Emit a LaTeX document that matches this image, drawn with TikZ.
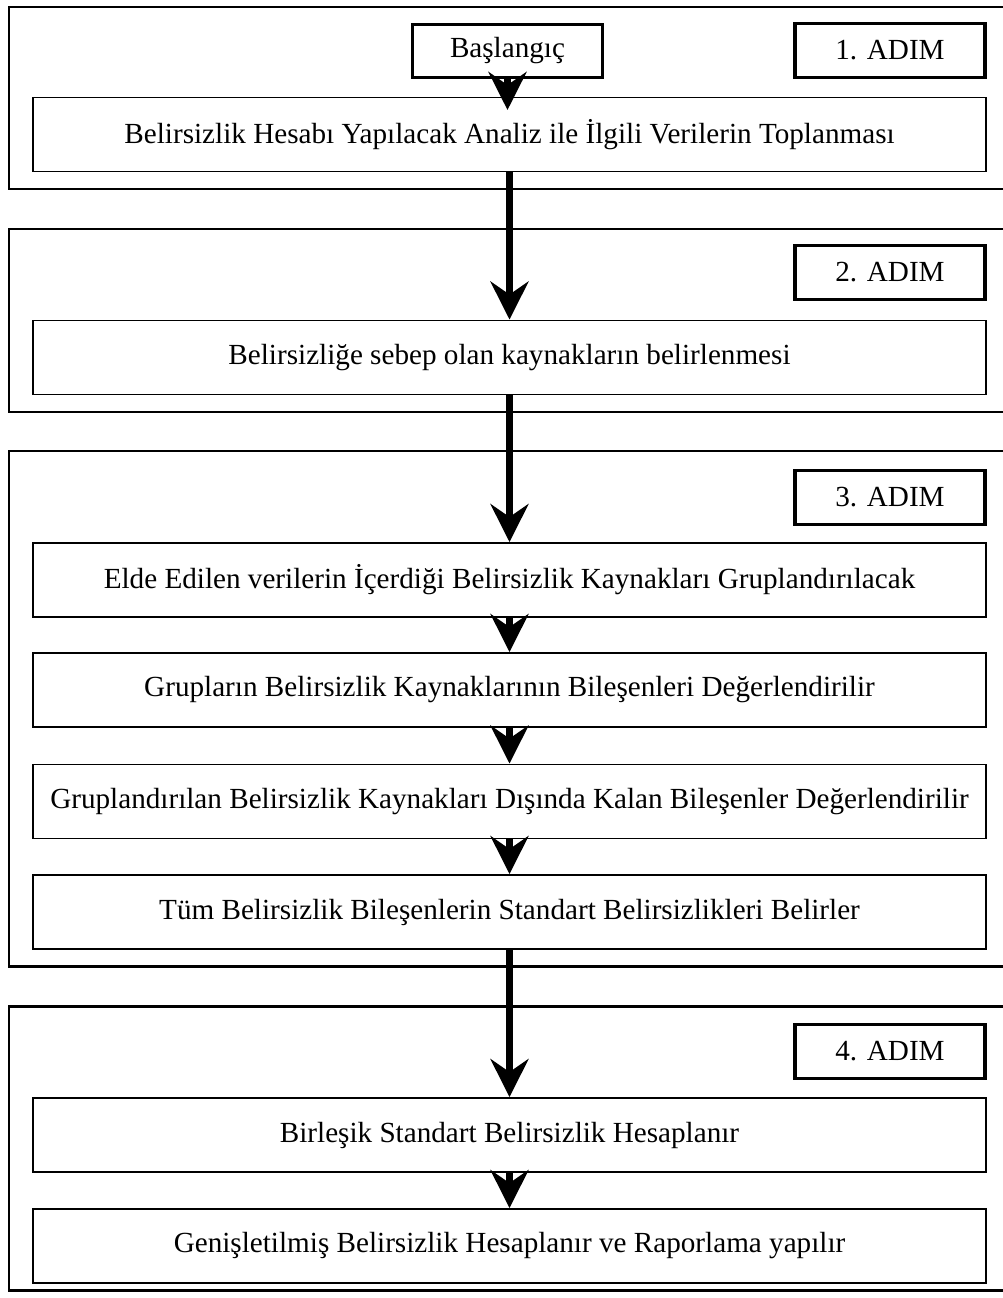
\documentclass[tikz,border=0pt]{standalone}
\usepackage{fontspec}
\setmainfont{Liberation Serif}
\usepackage{tikz}
\usetikzlibrary{positioning,arrows.meta}

\tikzset{
	frame/.style={line width=1.7pt},
	stepbox/.style={draw,line width=1.1pt,inner sep=0pt,minimum width=19.06cm,minimum height=1.48cm,font=\fontsize{16.6}{19}\selectfont},
	tagbox/.style={draw,line width=1.9pt,inner sep=0pt,minimum width=3.8cm,minimum height=1.07cm,font=\fontsize{16.6}{19}\selectfont},
	flow/.style={line width=4.4pt,-{Stealth[length=0.76cm,width=0.76cm,inset=0.26cm]}}
}

\begin{document}
\begin{tikzpicture}[x=0.02cm,y=-0.02cm]
	
	\useasboundingbox (0,0) rectangle (1003,1298);
	
	% the four step frames
	\draw[frame] (9,7) rectangle (1012,189);
	\draw[frame] (9,229) rectangle (1012,412);
	\draw[frame] (9,451) rectangle (1012,966);
	\draw[frame] (9,1006) rectangle (1012,1290);
	
	\node[tagbox] (start) at (507.5,51) {Başlangıç};
	\node[tagbox] (adim1) at (890,50.5) {1. ADIM};
	\node[tagbox] (adim2) at (890,272.5) {2. ADIM};
	\node[tagbox] (adim3) at (890,497.5) {3. ADIM};
	\node[tagbox] (adim4) at (890,1051.5) {4. ADIM};
	
	\node[stepbox] (veri) at (509.5,134.5) {Belirsizlik Hesabı Yapılacak Analiz ile İlgili Verilerin Toplanması};
	\node[stepbox] (kaynak) at (509.5,357.5) {Belirsizliğe sebep olan kaynakların belirlenmesi};
	\node[stepbox] (grup) at (509.5,580) {Elde Edilen verilerin İçerdiği Belirsizlik Kaynakları Gruplandırılacak};
	\node[stepbox] (bilesen) at (509.5,690) {Grupların Belirsizlik Kaynaklarının Bileşenleri Değerlendirilir};
	\node[stepbox] (disinda) at (509.5,801.5) {Gruplandırılan Belirsizlik Kaynakları Dışında Kalan Bileşenler Değerlendirilir};
	\node[stepbox] (standart) at (509.5,912) {Tüm Belirsizlik Bileşenlerin Standart Belirsizlikleri Belirler};
	\node[stepbox] (birlesik) at (509.5,1135) {Birleşik Standart Belirsizlik Hesaplanır};
	\node[stepbox] (genis) at (509.5,1246) {Genişletilmiş Belirsizlik Hesaplanır ve Raporlama yapılır};
	
	% arrows
	\coordinate (tip1) at (507.5,110);
	\draw[flow] (start.south) -- (tip1);
	\draw[flow] (veri.south) -- (kaynak.north);
	\draw[flow] (kaynak.south) -- (grup.north);
	\draw[flow] (grup.south) -- (bilesen.north);
	\draw[flow] (bilesen.south) -- (disinda.north);
	\draw[flow] (disinda.south) -- (standart.north);
	\draw[flow] (standart.south) -- (birlesik.north);
	\draw[flow] (birlesik.south) -- (genis.north);
	
\end{tikzpicture}
\end{document}
